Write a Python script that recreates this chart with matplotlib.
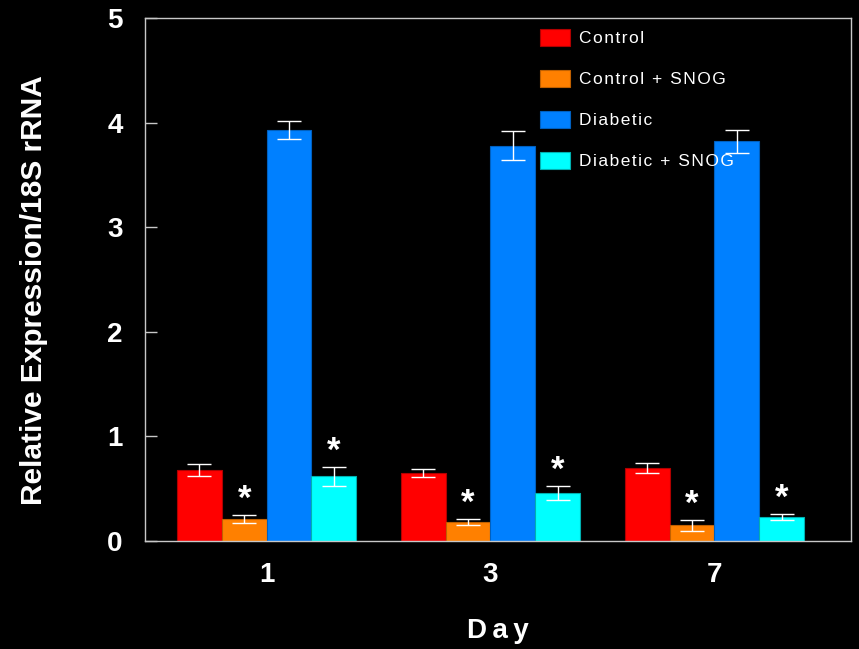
import matplotlib.pyplot as plt
import numpy as np

plt.rcParams['font.family'] = ['Liberation Sans', 'DejaVu Sans']

days = ['1', '3', '7']
groups = ['Control', 'Control + SNOG', 'Diabetic', 'Diabetic + SNOG']
colors = ['#ff0000', '#ff8000', '#0080ff', '#00ffff']
edges = ['#b00000', '#c06000', '#0060c0', '#00b0b0']

control = [0.68, 0.65, 0.70]
control_err = [0.06, 0.04, 0.05]
control_snog = [0.21, 0.18, 0.15]
control_snog_err = [0.04, 0.03, 0.05]
diabetic = [3.93, 3.78, 3.82]
diabetic_err = [0.09, 0.14, 0.11]
diabetic_snog = [0.62, 0.46, 0.23]
diabetic_snog_err = [0.09, 0.07, 0.03]

means = [control, control_snog, diabetic, diabetic_snog]
errs = [control_err, control_snog_err, diabetic_err, diabetic_snog_err]
# which series get a significance star
starred = [False, True, False, True]


def spaced(s, sep='\u200a'):
    return sep.join(s)


fig = plt.figure(figsize=(8.59, 6.49), dpi=100, facecolor='black')
ax = fig.add_axes([145 / 859, 108 / 649, 706 / 859, 523 / 649])
ax.set_facecolor('black')

x = np.arange(len(days))
width = 0.2
for i in range(4):
    pos = x + (i - 1.5) * width
    ax.bar(pos, means[i], width, color=colors[i], edgecolor=edges[i],
           linewidth=0.8, label=spaced(groups[i]), zorder=2)
    ax.errorbar(pos, means[i], yerr=errs[i], fmt='none', ecolor='white',
                elinewidth=1, capsize=8.3, capthick=1, zorder=3)
    if starred[i]:
        for p, m, e in zip(pos, means[i], errs[i]):
            ax.annotate('*', (p, m + e), xytext=(0, 11), textcoords='offset points',
                        ha='center', va='center', color='white',
                        fontsize=25, fontweight='bold')

ax.set_xlim(-0.543, 2.61)
ax.set_ylim(0, 5)
ax.set_xticks(x)
ax.set_xticklabels(days)
ax.set_yticks(range(6))

for s in ax.spines.values():
    s.set_color('#c8c8c8')
    s.set_linewidth(1)

ax.tick_params(axis='y', direction='in', length=8.6, width=1, color='#c8c8c8',
               pad=16, labelcolor='white', labelsize=20)
ax.tick_params(axis='x', length=0, pad=15, labelcolor='white', labelsize=20)
for lab in ax.get_xticklabels() + ax.get_yticklabels():
    lab.set_fontweight('bold')

ax.set_ylabel('Relative Expression/18S rRNA', color='white', fontsize=21.5,
              fontweight='bold')
ax.yaxis.set_label_coords(-0.138, 0.48)
ax.set_xlabel('D\u2009a\u2009y', color='white', fontsize=20, fontweight='bold')
ax.xaxis.set_label_coords(0.5, -0.148)

leg = ax.legend(loc='upper left', bbox_to_anchor=(0.5595, 0.979), frameon=False,
                fontsize=12.5, handlelength=1.72, handleheight=1.15,
                handletextpad=0.5, labelspacing=1.35, borderpad=0, borderaxespad=0)
for t in leg.get_texts():
    t.set_color('white')

fig.savefig('out.png', dpi=100, facecolor='black')
